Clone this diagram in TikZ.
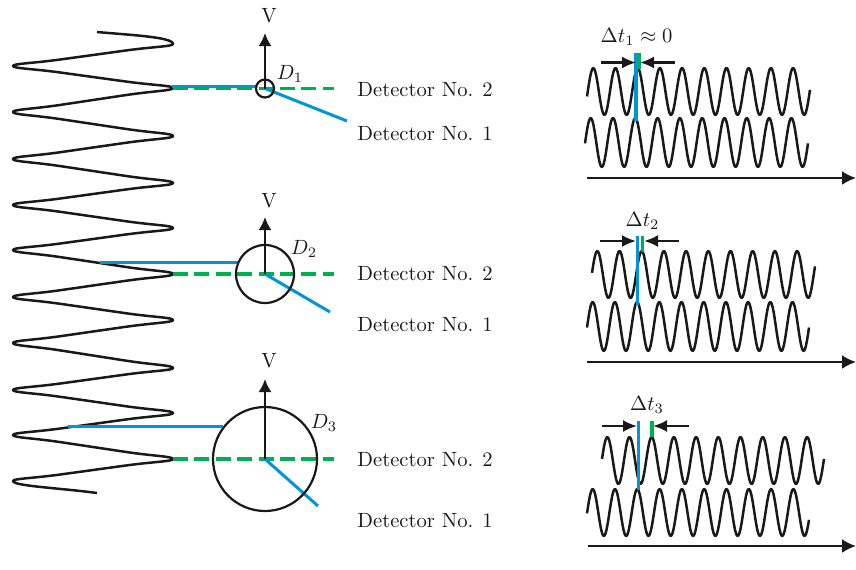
\documentclass[tikz,border=0pt]{standalone}
\usepackage{amsmath,amssymb}
\usepackage{fix-cm}
\usetikzlibrary{arrows.meta}
\definecolor{beamblue}{HTML}{0095D9}
\definecolor{beamgreen}{HTML}{00B050}
\tikzset{
  wave/.style={line width=1.25pt,black!90,line join=round},
  ring/.style={line width=1.1pt,black!90},
  blueline/.style={line width=1.5pt,beamblue},
  greenline/.style={line width=1.6pt,beamgreen},
  greendash/.style={greenline,dash pattern=on 7.5pt off 3.2pt},
  vel/.style={line width=1pt,black!90,-{Latex[length=6.5pt,width=6.5pt]}},
  axis/.style={line width=1.2pt,black!90,-{Latex[length=7pt,width=7pt]}},
  gap/.style={line width=1.1pt,black!90,-{Latex[length=7pt,width=6pt]}},
  every node/.style={font=\fontsize{10.3}{13}\selectfont,text=black!90,inner sep=0pt}
}
\newcommand{\limb}[4]{
  .. controls (#1,{#2+.11*(#4-#2)}) and ({#1+.12*(#3-#1)},{#2+.12*(#4-#2)}) .. ({#1+.3*(#3-#1)},{#2+.3*(#4-#2)})
  -- ({#1+.7*(#3-#1)},{#2+.7*(#4-#2)})
  .. controls ({#1+.88*(#3-#1)},{#2+.88*(#4-#2)}) and (#3,{#2+.89*(#4-#2)}) .. (#3,#4)
}
\newcommand{\sigwave}[6]{
  \draw [wave] plot [domain=#1:#2,samples=220] (\x,{#5-#6*cos((\x-#3)/#4*360)});
}
\begin{document}
\begin{tikzpicture}[x=0.5pt,y=-0.5pt]
  \useasboundingbox (0,0) rectangle (856,569);
  \draw [wave] (97,32) .. controls (130,35) and (173,37) .. (173,44)
    \limb{173}{44}{13}{66} \limb{13}{66}{173}{88}
    \limb{173}{88}{13}{112} \limb{13}{112}{173}{136}
    \limb{173}{136}{13}{159} \limb{13}{159}{173}{183}
    \limb{173}{183}{13}{205} \limb{13}{205}{173}{228}
    \limb{173}{228}{13}{250} \limb{13}{250}{173}{274}
    \limb{173}{274}{13}{297} \limb{13}{297}{173}{320}
    \limb{173}{320}{13}{343} \limb{13}{343}{173}{368}
    \limb{173}{368}{13}{390} \limb{13}{390}{173}{413}
    \limb{173}{413}{13}{435} \limb{13}{435}{173}{459}
    \limb{173}{459}{13}{481}
    .. controls (13,486) and (60,488) .. (97,493);

  \coordinate (o1) at (265,88.5);
  \coordinate (v1) at (265,33);
  \coordinate (a1) at (172,86);
  \coordinate (b1) at (257,86);
  \coordinate (g1a) at (173,88.5);
  \coordinate (g1b) at (334,88.5);
  \coordinate (k1) at (347,121);
  \draw [blueline] (a1) -- (b1);
  \draw [greendash] (g1a) -- (g1b);
  \draw [blueline] (o1) -- (k1);
  \draw [ring] (o1) circle [radius=4.5pt];
  \draw [vel] (o1) -- (v1);
  \node (V1) at (269,16) {V};
  \node (D1) at (290,74) {\(D_1\)};
  \node [anchor=west] (n12) at (357,90) {Detector No. 2};
  \node [anchor=west] (n11) at (357,134) {Detector No. 1};

  \coordinate (o2) at (265,274);
  \coordinate (v2) at (265,217);
  \coordinate (a2) at (100,262);
  \coordinate (b2) at (239,262);
  \coordinate (g2a) at (173,274);
  \coordinate (g2b) at (334,274);
  \coordinate (k2) at (330,312);
  \draw [blueline] (a2) -- (b2);
  \draw [greendash] (g2a) -- (g2b);
  \draw [blueline] (o2) -- (k2);
  \draw [ring] (o2) circle [radius=14.5pt];
  \draw [vel] (o2) -- (v2);
  \node (V2) at (269,201) {V};
  \node (D2) at (304,249) {\(D_2\)};
  \node [anchor=west] (n22) at (357,274) {Detector No. 2};
  \node [anchor=west] (n21) at (357,325) {Detector No. 1};

  \coordinate (o3) at (265,459);
  \coordinate (v3) at (265,379);
  \coordinate (a3) at (68,426);
  \coordinate (b3) at (223,426);
  \coordinate (g3a) at (173,459);
  \coordinate (g3b) at (334,459);
  \coordinate (k3) at (318,506);
  \draw [blueline] (a3) -- (b3);
  \draw [greendash] (g3a) -- (g3b);
  \draw [blueline] (o3) -- (k3);
  \draw [ring] (o3) circle [radius=26pt];
  \draw [vel] (o3) -- (v3);
  \node (V3) at (269,361) {V};
  \node (D3) at (324,423) {\(D_3\)};
  \node [anchor=west] (n32) at (357,460) {Detector No. 2};
  \node [anchor=west] (n31) at (357,521) {Detector No. 1};

  \sigwave{587}{810}{593.3}{22.2}{91.5}{23.5}
  \sigwave{585}{808}{590.7}{22.3}{142.5}{24.5}
  \coordinate (x1) at (587,178);
  \coordinate (y1) at (856,178);
  \draw [axis] (x1) -- (y1);
  \draw [blueline,line width=2pt] (636,53) -- (636,121);
  \draw [greenline,line width=2pt] (639,53) -- (639,69);
  \coordinate (l1) at (601,62.5);
  \coordinate (m1) at (636,62.5);
  \coordinate (r1) at (675,62.5);
  \coordinate (s1) at (640,62.5);
  \draw [gap] (l1) -- (m1);
  \draw [gap] (r1) -- (s1);
  \node (t1) at (636.5,37) {\(\Delta t_1 \approx 0\)};

  \sigwave{592}{815}{597.3}{22.2}{274.5}{23.5}
  \sigwave{587}{809}{592.7}{22.2}{326.5}{24.5}
  \coordinate (x2) at (587,362);
  \coordinate (y2) at (856,362);
  \draw [axis] (x2) -- (y2);
  \draw [blueline] (637.5,236) -- (637.5,305);
  \draw [greenline] (642.5,236) -- (642.5,252);
  \coordinate (l2) at (600,241);
  \coordinate (m2) at (636,241);
  \coordinate (r2) at (679,241);
  \coordinate (s2) at (644,241);
  \draw [gap] (l2) -- (m2);
  \draw [gap] (r2) -- (s2);
  \node (t2) at (642.5,220.5) {\(\Delta t_2\)};

  \sigwave{602}{824}{607.3}{22.2}{460.5}{23.5}
  \sigwave{587}{809}{592.7}{22.3}{512.5}{23.5}
  \coordinate (x3) at (588,546);
  \coordinate (y3) at (856,546);
  \draw [axis] (x3) -- (y3);
  \draw [blueline] (638,421) -- (638,490);
  \draw [greenline] (652,421) -- (652,437);
  \coordinate (l3) at (601.5,426);
  \coordinate (m3) at (637,426);
  \coordinate (r3) at (688.5,426);
  \coordinate (s3) at (653,426);
  \draw [gap] (l3) -- (m3);
  \draw [gap] (r3) -- (s3);
  \node (t3) at (647,405) {\(\Delta t_3\)};
\end{tikzpicture}
\end{document}
